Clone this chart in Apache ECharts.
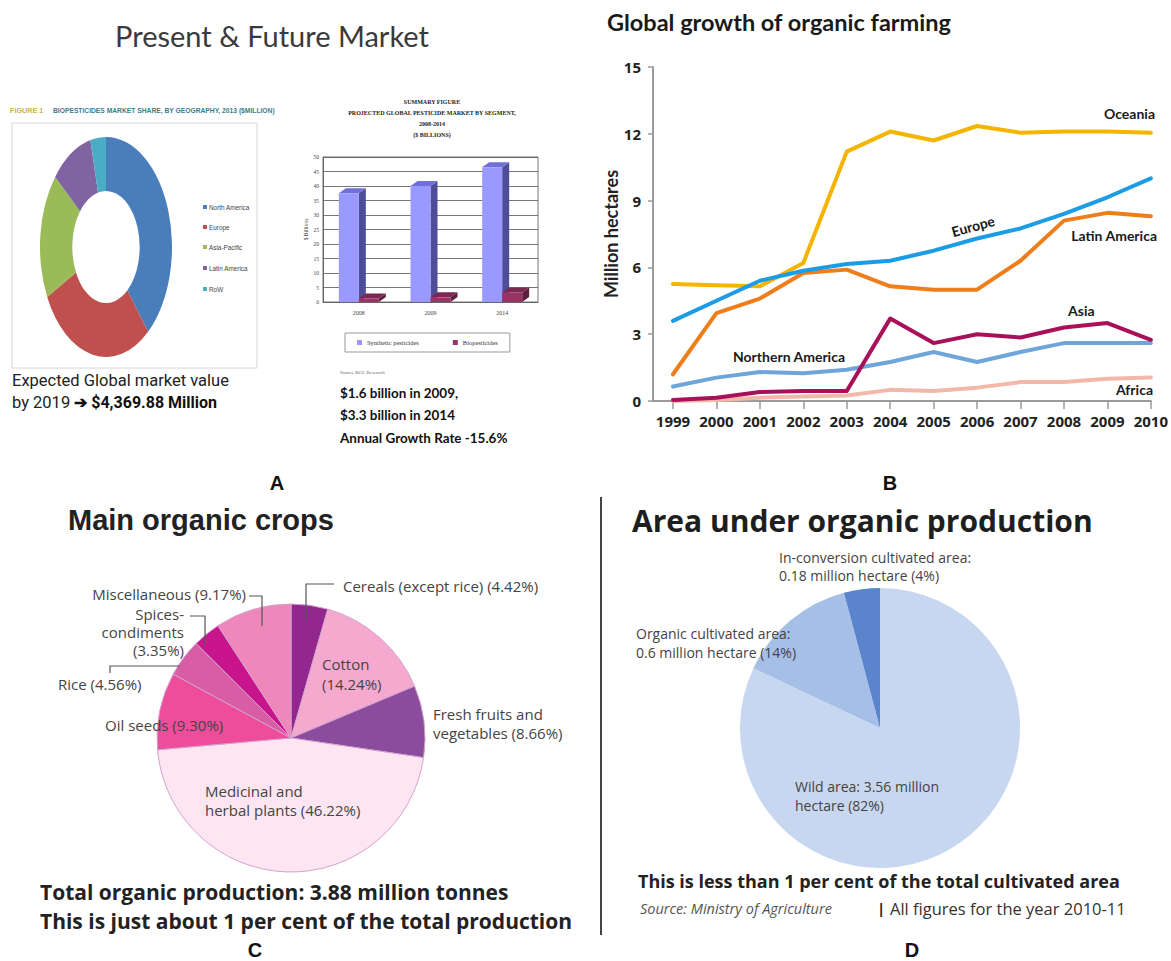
<!DOCTYPE html>
<html>
<head>
<meta charset="utf-8">
<script src="https://cdn.jsdelivr.net/npm/echarts@6/dist/echarts.min.js"></script>
<style>
  html, body { margin: 0; padding: 0; background: #fff; }
  #wrap { position: relative; width: 1171px; height: 961px; overflow: hidden; }
  #main { position: absolute; left: 0; top: 0; width: 1171px; height: 961px; }
  /* the donut in the source is squashed into an ellipse */
  #donut { position: absolute; left: -4px; top: 137px; width: 220px; height: 220px;
           transform: scaleX(0.6); transform-origin: 50% 50%; }
</style>
</head>
<body>
<div id="wrap">
  <div id="main"></div>
  <div id="donut"></div>
</div>
<script>
// A: biopesticides market share by geography, 2013
const regions = ['North America', 'Europe', 'Asia-Pacific', 'Latin America', 'RoW'];
const regionShare = [39, 28.5, 18.5, 10.2, 3.8];
const regionColors = ['#4a7ebb', '#c0504d', '#9bbb59', '#8064a2', '#4bacc6'];

// A: projected global pesticide market ($ billions)
const marketYears = ['2008', '2009', '2014'];
const synthetic = [37.5, 40, 46.5];
const biopest = [1.2, 1.6, 3.3];

// B: global growth of organic farming (million hectares)
const years = [1999, 2000, 2001, 2002, 2003, 2004, 2005, 2006, 2007, 2008, 2009, 2010];
const oceania = [5.25, 5.2, 5.15, 6.2, 11.2, 12.1, 11.7, 12.35, 12.05, 12.1, 12.1, 12.05];
const europe = [3.6, 4.5, 5.4, 5.85, 6.15, 6.3, 6.75, 7.3, 7.75, 8.4, 9.15, 10.0];
const latinAmerica = [1.2, 3.95, 4.6, 5.75, 5.9, 5.15, 5.0, 5.0, 6.3, 8.1, 8.45, 8.3];
const asia = [0.05, 0.15, 0.4, 0.45, 0.45, 3.7, 2.6, 3.0, 2.85, 3.3, 3.5, 2.75];
const northernAmerica = [0.65, 1.05, 1.3, 1.25, 1.4, 1.75, 2.2, 1.75, 2.2, 2.6, 2.6, 2.6];
const africa = [0.0, 0.05, 0.15, 0.2, 0.25, 0.5, 0.45, 0.6, 0.85, 0.85, 1.0, 1.05];

// C: main organic crops (% of production)
const crops = ['Cereals (except rice)', 'Cotton', 'Fresh fruits and vegetables', 'Medicinal and herbal plants',
               'Oil seeds', 'Rice', 'Spices-condiments', 'Miscellaneous'];
const cropShare = [4.42, 14.24, 8.66, 46.22, 9.30, 4.56, 3.35, 9.17];
const cropColors = ['#93278f', '#f5a9ce', '#8b4c9e', '#fde6f1', '#ee4d9b', '#d95da4', '#c8158d', '#ef87ba'];

// D: area under organic production (million hectare)
const areas = ['Wild area', 'Organic cultivated area', 'In-conversion cultivated area'];
const areaMha = [3.56, 0.6, 0.18];
const areaColors = ['#c7d7ef', '#a6bfe6', '#5a84cb'];

const BAR_W = 20, DX = 7, DY = -5;

function txt(x, y, text, size, o) {
  o = o || {};
  return {
    type: 'text', x: x, y: y, z: 100, rotation: o.rot || 0, scaleX: o.sx || 1, silent: true,
    style: {
      text: text, fill: o.color || '#333', fontSize: size,
      fontFamily: o.family || 'Open Sans', fontWeight: o.bold ? 'bold' : 'normal',
      fontStyle: o.italic ? 'italic' : 'normal',
      textAlign: o.align || 'left', textVerticalAlign: 'middle', rich: o.rich
    }
  };
}
function lead(points) {
  return { type: 'polyline', z: 100, silent: true, shape: { points: points },
           style: { stroke: '#555', lineWidth: 1.2, fill: null } };
}

// 3D looking bar: front, side and top faces
function bar3d(left, faces) {
  return function (params, api) {
    const t = api.coord([api.value(0), api.value(1)]);
    const b = api.coord([api.value(0), 0]);
    const x0 = left ? t[0] - BAR_W : t[0], x1 = x0 + BAR_W;
    const yT = t[1], yB = b[1];
    return { type: 'group', children: [
      { type: 'polygon', shape: { points: [[x1, yB], [x1 + DX, yB + DY], [x1 + DX, yT + DY], [x1, yT]] }, style: { fill: faces[1] } },
      { type: 'polygon', shape: { points: [[x0, yT], [x0 + DX, yT + DY], [x1 + DX, yT + DY], [x1, yT]] }, style: { fill: faces[2] } },
      { type: 'rect', shape: { x: x0, y: yT, width: BAR_W, height: yB - yT }, style: { fill: faces[0] } }
    ] };
  };
}

function line(name, values, color) {
  return {
    type: 'line', name: name, xAxisIndex: 0, yAxisIndex: 0, symbol: 'none', silent: true,
    data: years.map((y, i) => [y, values[i]]),
    lineStyle: { color: color, width: 4, cap: 'round', join: 'round' }
  };
}

const serifSmall = 'Liberation Serif';
const lblFont = 'Lato';

const graphic = [
  // panel A
  txt(272, 35, 'Present & Future Market', 29, { align: 'center', family: 'Lato', color: '#3a3a3a' }),
  txt(10, 110, 'FIGURE 1', 8, { bold: true, family: 'Liberation Sans', color: '#c9b24a', sx: 0.9 }),
  txt(53, 110, 'BIOPESTICIDES MARKET SHARE, BY GEOGRAPHY, 2013 ($MILLION)', 8,
      { bold: true, family: 'Liberation Sans', color: '#3d7d8c', sx: 0.84 }),
  { type: 'rect', silent: true, shape: { x: 12, y: 123, width: 245, height: 245 },
    style: { fill: null, stroke: '#d4d4d4', lineWidth: 1 } }
];
const legendY = [207, 227, 247, 268, 289];
regions.forEach((r, i) => {
  graphic.push({ type: 'rect', silent: true, shape: { x: 203, y: legendY[i] - 2, width: 4, height: 4 },
                 style: { fill: regionColors[i] } });
  graphic.push(txt(209, legendY[i], r, 7.5, { family: 'Liberation Sans', color: '#444', sx: 0.85 }));
});
graphic.push(
  txt(432, 102, 'SUMMARY FIGURE', 6, { align: 'center', bold: true, family: serifSmall, color: '#222' }),
  txt(432, 113, 'PROJECTED GLOBAL PESTICIDE MARKET BY SEGMENT,', 6, { align: 'center', bold: true, family: serifSmall, color: '#222' }),
  txt(432, 124, '2008-2014', 6, { align: 'center', bold: true, family: serifSmall, color: '#222' }),
  txt(432, 135, '($ BILLIONS)', 6, { align: 'center', bold: true, family: serifSmall, color: '#222' }),
  txt(340, 372, 'Source BCC Research', 5, { family: serifSmall, color: '#666' }),
  txt(340, 392, '$1.6 billion in 2009,', 14, { bold: true, family: 'Lato', color: '#111', sx: 0.96 }),
  txt(340, 414, '$3.3 billion in 2014', 14, { bold: true, family: 'Lato', color: '#111', sx: 0.96 }),
  txt(340, 437, 'Annual Growth Rate -15.6%', 14, { bold: true, family: 'Lato', color: '#111', sx: 0.96 }),
  txt(12, 380, 'Expected Global market value', 16.5, { family: 'Roboto', color: '#222' }),
  txt(12, 402, '{a|by 2019 }{b|\u2794 $4,369.88 Million}', 16, { family: 'Roboto', color: '#222', rich: {
    a: { fontSize: 16.5, fontFamily: 'Roboto', fill: '#222', color: '#222' },
    b: { fontSize: 16, fontFamily: 'Roboto', fontWeight: 'bold', fill: '#111', color: '#111' } } }),
  txt(277, 483, 'A', 20, { align: 'center', bold: true, family: 'Liberation Sans', color: '#111' }),

  // panel B
  txt(607, 22, 'Global growth of organic farming', 23.5, { bold: true, family: 'Lato', color: '#1a1a1a' }),
  txt(1155, 113, 'Oceania', 14, { bold: true, family: lblFont, color: '#1a1a1a', align: 'right' }),
  txt(973, 226, 'Europe', 14, { bold: true, family: lblFont, color: '#1a1a1a', align: 'center', rot: 0.27 }),
  txt(1157, 235, 'Latin America', 14, { bold: true, family: lblFont, color: '#1a1a1a', align: 'right' }),
  txt(1068, 310, 'Asia', 14, { bold: true, family: lblFont, color: '#1a1a1a' }),
  txt(733, 356, 'Northern America', 14, { bold: true, family: lblFont, color: '#1a1a1a' }),
  txt(1153, 389, 'Africa', 14, { bold: true, family: lblFont, color: '#1a1a1a', align: 'right' }),
  txt(890, 483, 'B', 20, { align: 'center', bold: true, family: 'Liberation Sans', color: '#111' }),

  // panel C
  txt(68, 520, 'Main organic crops', 29, { bold: true, family: 'Liberation Sans', color: '#222' }),
  txt(343, 586, 'Cereals (except rice) (4.42%)', 15, { color: '#444' }),
  lead([[306, 620], [306, 584], [334, 584]]),
  txt(246, 594, 'Miscellaneous (9.17%)', 15, { color: '#444', align: 'right' }),
  lead([[249, 596], [262, 596], [262, 626]]),
  txt(184, 614, 'Spices-', 15, { color: '#444', align: 'right' }),
  txt(184, 632, 'condiments', 15, { color: '#444', align: 'right' }),
  txt(184, 650, '(3.35%)', 15, { color: '#444', align: 'right' }),
  lead([[190, 616], [205, 616], [205, 645]]),
  txt(58, 684, 'Rice (4.56%)', 15, { color: '#444' }),
  lead([[110, 673], [110, 666], [180, 666]]),
  txt(105, 725, 'Oil seeds (9.30%)', 15, { color: '#444' }),
  txt(322, 664, 'Cotton', 15, { color: '#444' }),
  txt(322, 684, '(14.24%)', 15, { color: '#444' }),
  txt(433, 714, 'Fresh fruits and', 15, { color: '#444' }),
  txt(433, 733, 'vegetables (8.66%)', 15, { color: '#444' }),
  txt(205, 791, 'Medicinal and', 15, { color: '#444' }),
  txt(205, 810, 'herbal plants (46.22%)', 15, { color: '#444' }),
  txt(40, 892, 'Total organic production: 3.88 million tonnes', 21, { bold: true, color: '#222' }),
  txt(40, 921, 'This is just about 1 per cent of the total production', 21, { bold: true, color: '#222' }),
  txt(255, 950, 'C', 20, { align: 'center', bold: true, family: 'Liberation Sans', color: '#111' }),

  // panel D
  { type: 'line', silent: true, shape: { x1: 601, y1: 497, x2: 601, y2: 935 }, style: { stroke: '#444', lineWidth: 2 } },
  txt(632, 520, 'Area under organic production', 30, { bold: true, color: '#1e1e1e' }),
  txt(779, 557, 'In-conversion cultivated area:', 14, { color: '#444' }),
  txt(779, 575, '0.18 million hectare (4%)', 14, { color: '#444' }),
  txt(636, 633, 'Organic cultivated area:', 14, { color: '#444' }),
  txt(636, 652, '0.6 million hectare (14%)', 14, { color: '#444' }),
  txt(795, 786, 'Wild area: 3.56 million', 14, { color: '#444' }),
  txt(795, 805, 'hectare (82%)', 14, { color: '#444' }),
  txt(638, 881, 'This is less than 1 per cent of the total cultivated area', 18, { bold: true, color: '#222' }),
  txt(640, 908, 'Source: Ministry of Agriculture', 14.5, { italic: true, color: '#555' }),
  txt(877, 908, '|', 15, { bold: true, color: '#222' }),
  txt(890, 908, 'All figures for the year 2010-11', 16.5, { color: '#333' }),
  txt(912, 950, 'D', 20, { align: 'center', bold: true, family: 'Liberation Sans', color: '#111' })
);

const main = echarts.init(document.getElementById('main'), null, { renderer: 'svg' });
main.setOption({
  animation: false,
  grid: [
    { left: 653, right: 16, top: 67, bottom: 560 },
    { left: 323, top: 157, width: 215, height: 145, show: true, borderColor: '#777', borderWidth: 1 }
  ],
  xAxis: [
    { type: 'value', gridIndex: 0, min: 1998.54, max: 2010,
      axisLine: { lineStyle: { color: '#9a9a9a', width: 2 } },
      axisTick: { show: true, customValues: years, length: 8, lineStyle: { color: '#9a9a9a', width: 1.5 } },
      axisLabel: { customValues: years, formatter: v => String(v), color: '#222', fontSize: 15,
                   fontWeight: 'bold', fontFamily: 'Open Sans', margin: 12 },
      splitLine: { show: false } },
    { type: 'category', gridIndex: 1, data: marketYears,
      axisLine: { lineStyle: { color: '#666' } }, axisTick: { show: false },
      axisLabel: { fontSize: 6, fontFamily: serifSmall, color: '#444', margin: 8 } }
  ],
  yAxis: [
    { type: 'value', gridIndex: 0, min: 0, max: 15, interval: 3,
      axisLine: { show: true, lineStyle: { color: '#9a9a9a', width: 2 } },
      axisTick: { show: true, length: 5, lineStyle: { color: '#9a9a9a', width: 1.5 } },
      axisLabel: { color: '#222', fontSize: 15, fontWeight: 'bold', fontFamily: 'Open Sans', margin: 12 },
      splitLine: { show: false },
      name: 'Million hectares', nameLocation: 'middle', nameGap: 26, nameRotate: 90,
      nameTextStyle: { fontSize: 18, fontWeight: 'bold', fontFamily: 'Lato', color: '#222' } },
    { type: 'value', gridIndex: 1, min: 0, max: 50, interval: 5,
      axisLine: { show: true, lineStyle: { color: '#666' } }, axisTick: { show: false },
      axisLabel: { fontSize: 5.5, fontFamily: serifSmall, color: '#444', margin: 4 },
      splitLine: { lineStyle: { color: '#555', width: 0.8 } },
      name: '$ Billions', nameLocation: 'middle', nameGap: 14, nameRotate: 90,
      nameTextStyle: { fontSize: 5.5, fontFamily: serifSmall, color: '#444' } }
  ],
  legend: {
    data: ['Synthetic pesticides', 'Biopesticides'], left: 345, top: 333, selectedMode: false,
    icon: 'rect', itemWidth: 5, itemHeight: 5, itemGap: 34, padding: [6, 12],
    borderColor: '#999', borderWidth: 1,
    textStyle: { fontSize: 6.5, fontFamily: serifSmall, color: '#333' }
  },
  series: [
    line('Africa', africa, '#f2b9aa'),
    line('Northern America', northernAmerica, '#6ea6da'),
    line('Asia', asia, '#a8105a'),
    line('Latin America', latinAmerica, '#ee7d1b'),
    line('Oceania', oceania, '#f4b400'),
    line('Europe', europe, '#1b9ce5'),
    { type: 'custom', name: 'Synthetic pesticides', xAxisIndex: 1, yAxisIndex: 1, silent: true,
      itemStyle: { color: '#9999ff' }, encode: { x: 0, y: 1 },
      renderItem: bar3d(true, ['#9999ff', '#4d4d99', '#7070d8']),
      data: synthetic.map((v, i) => [i, v]) },
    { type: 'custom', name: 'Biopesticides', xAxisIndex: 1, yAxisIndex: 1, silent: true,
      itemStyle: { color: '#993366' }, encode: { x: 0, y: 1 },
      renderItem: bar3d(false, ['#993366', '#5c1f3d', '#7a2952']),
      data: biopest.map((v, i) => [i, v]) },
    { type: 'pie', name: 'crops', center: [291, 738], radius: 134, startAngle: 90, silent: true,
      label: { show: false }, labelLine: { show: false },
      itemStyle: { borderColor: '#d3a3cf', borderWidth: 1 },
      data: crops.map((c, i) => ({ name: c, value: cropShare[i], itemStyle: { color: cropColors[i] } })) },
    { type: 'pie', name: 'area', center: [880, 728], radius: 140, startAngle: 90, silent: true,
      label: { show: false }, labelLine: { show: false },
      data: areas.map((a, i) => ({ name: a, value: areaMha[i], itemStyle: { color: areaColors[i] } })) }
  ],
  graphic: graphic
});

const donut = echarts.init(document.getElementById('donut'), null, { renderer: 'svg' });
donut.setOption({
  animation: false,
  series: [{
    type: 'pie', radius: ['51%', '100%'], center: ['50%', '50%'], startAngle: 90, silent: true,
    label: { show: false }, labelLine: { show: false },
    data: regions.map((r, i) => ({ name: r, value: regionShare[i], itemStyle: { color: regionColors[i] } }))
  }]
});
</script>
</body>
</html>
